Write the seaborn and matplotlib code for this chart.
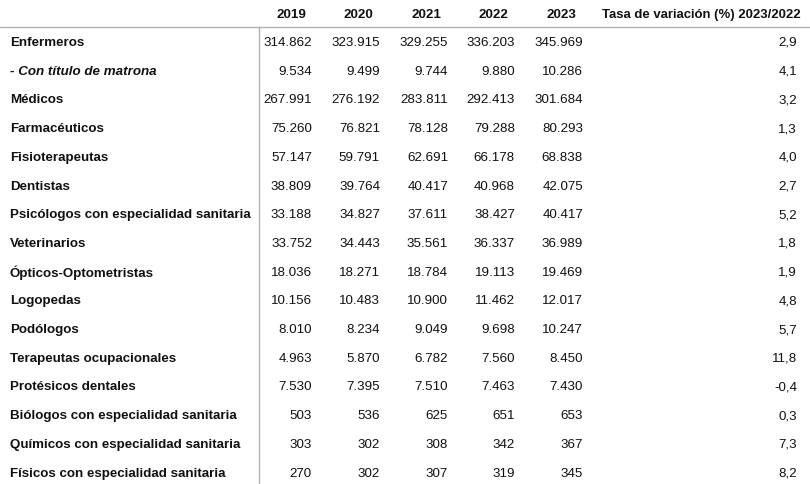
import matplotlib
matplotlib.use("Agg")
import matplotlib.pyplot as plt
import seaborn as sns

categories = [
    "Enfermeros", "- Con título de matrona", "Médicos", "Farmacéuticos",
    "Fisioterapeutas", "Dentistas", "Psicólogos con especialidad sanitaria",
    "Veterinarios", "Ópticos-Optometristas", "Logopedas", "Podólogos",
    "Terapeutas ocupacionales", "Protésicos dentales",
    "Biólogos con especialidad sanitaria", "Químicos con especialidad sanitaria",
    "Físicos con especialidad sanitaria",
]
years = ["2019", "2020", "2021", "2022", "2023"]
v2019 = ["314.862", "9.534", "267.991", "75.260", "57.147", "38.809", "33.188", "33.752", "18.036", "10.156", "8.010", "4.963", "7.530", "503", "303", "270"]
v2020 = ["323.915", "9.499", "276.192", "76.821", "59.791", "39.764", "34.827", "34.443", "18.271", "10.483", "8.234", "5.870", "7.395", "536", "302", "302"]
v2021 = ["329.255", "9.744", "283.811", "78.128", "62.691", "40.417", "37.611", "35.561", "18.784", "10.900", "9.049", "6.782", "7.510", "625", "308", "307"]
v2022 = ["336.203", "9.880", "292.413", "79.288", "66.178", "40.968", "38.427", "36.337", "19.113", "11.462", "9.698", "7.560", "7.463", "651", "342", "319"]
v2023 = ["345.969", "10.286", "301.684", "80.293", "68.838", "42.075", "40.417", "36.989", "19.469", "12.017", "10.247", "8.450", "7.430", "653", "367", "345"]
tasa = ["2,9", "4,1", "3,2", "1,3", "4,0", "2,7", "5,2", "1,8", "1,9", "4,8", "5,7", "11,8", "-0,4", "0,3", "7,3", "8,2"]
tasa_header = "Tasa de variación (%) 2023/2022"

sns.set_theme(style="white")
plt.rcParams["font.family"] = ["Liberation Sans", "DejaVu Sans"]

fig = plt.figure(figsize=(8.1, 4.85), dpi=100)
ax = fig.add_axes([0, 0, 1, 1])
ax.set_xlim(0, 810)
ax.set_ylim(15.40, -1.498)
ax.axis("off")

fs = 9.6
txt = "#111111"
col_right = [312, 380, 448, 515, 583]
col_hdr = [291, 358, 426, 493, 561]
tasa_right = 797

# header
for yr, xc in zip(years, col_hdr):
    ax.text(xc, -0.98, yr, ha="center", va="center", fontsize=fs, fontweight="bold", color=txt)
ax.text(801, -0.98, tasa_header, ha="right", va="center", fontsize=9.45, fontweight="bold", color=txt)

ax.axhline(-0.52, color="#b0b0b0", lw=1.0)
ax.plot([258.7, 258.7], [-0.52, 15.40], color="#b0b0b0", lw=1.0)

cols = [v2019, v2020, v2021, v2022, v2023]
for i, cat in enumerate(categories):
    style = "italic" if cat.startswith("-") else "normal"
    ax.text(10, i, cat, ha="left", va="center", fontsize=fs, fontweight="bold",
            fontstyle=style, color=txt)
    for vals, xr in zip(cols, col_right):
        ax.text(xr, i, vals[i], ha="right", va="center", fontsize=fs, color=txt)
    ax.text(tasa_right, i, tasa[i], ha="right", va="center", fontsize=fs, color=txt)

fig.savefig("out.png", dpi=100)
